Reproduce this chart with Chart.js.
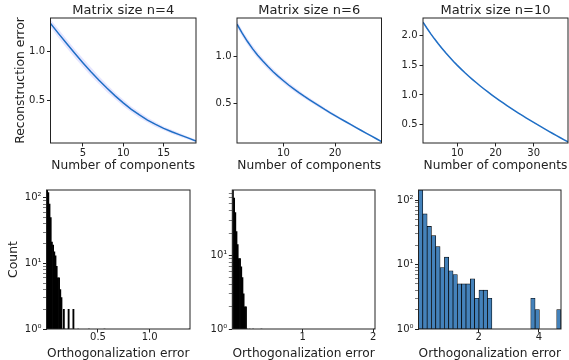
<!DOCTYPE html>
<html>
<head>
<meta charset="utf-8">
<script src="https://cdn.jsdelivr.net/npm/chart.js@4"></script>
<style>
  body { margin: 0; background: #fff; }
  #wrap { position: relative; width: 569px; height: 360px; }
  #wrap canvas { position: absolute; left: 0; top: 0; }
</style>
</head>
<body>
<div id="wrap">
  <canvas id="c1" width="569" height="360"></canvas>
  <canvas id="c2" width="569" height="360"></canvas>
  <canvas id="c3" width="569" height="360"></canvas>
  <canvas id="c4" width="569" height="360"></canvas>
  <canvas id="c5" width="569" height="360"></canvas>
  <canvas id="c6" width="569" height="360"></canvas>
</div>
<script>
// --- reconstruction error vs number of components ---
const comps4 = [1,2,3,4,5,6,7,8,9,10,11,12,13,14,15,16,17,18,19];
const err4 = [1.29,1.185,1.083,0.983,0.887,0.795,0.708,0.625,0.548,0.476,0.410,0.352,0.300,0.255,0.215,0.180,0.148,0.117,0.085];
const spread4 = [0.04,0.045,0.045,0.045,0.045,0.045,0.04,0.04,0.035,0.035,0.03,0.03,0.025,0.025,0.02,0.02,0.02,0.015,0.015];

const comps6 = [1,2,3,4,5,6,7,8,9,10,11,12,13,14,15,16,17,18,19,20,21,22,23,24,25,26,27,28,29];
const err6 = [1.345,1.249,1.163,1.085,1.016,0.953,0.895,0.841,0.791,0.745,0.700,0.659,0.619,0.581,0.545,0.510,0.476,0.441,0.408,0.376,
  0.344,0.313,0.282,0.251,0.220,0.190,0.160,0.130,0.100];
const spread6 = [0.035,0.035,0.035,0.035,0.033,0.032,0.03,0.03,0.028,0.027,0.026,0.025,0.024,0.022,0.021,0.02,0.019,0.018,0.017,0.016,
  0.015,0.014,0.013,0.012,0.011,0.01,0.01,0.01,0.01];

const comps10 = [1,2,3,4,5,6,7,8,9,10,11,12,13,14,15,16,17,18,19,20,21,22,23,24,25,26,27,28,29,30,31,32,33,34,35,36,37,38,39];
const err10 = [2.22,2.122,2.029,1.941,1.858,1.779,1.703,1.631,1.562,1.496,1.433,1.372,1.314,1.258,1.204,1.151,1.100,1.051,1.003,0.956,
  0.911,0.867,0.823,0.780,0.738,0.697,0.657,0.617,0.578,0.540,0.502,0.464,0.427,0.390,0.354,0.318,0.283,0.248,0.213];
const spread10 = [0.02,0.02,0.02,0.019,0.019,0.018,0.018,0.017,0.017,0.016,0.016,0.015,0.015,0.014,0.014,0.013,0.013,0.012,0.012,0.011,
  0.011,0.01,0.01,0.01,0.009,0.009,0.009,0.008,0.008,0.008,0.008,0.007,0.007,0.007,0.007,0.006,0.006,0.006,0.006];

// --- orthogonalization error histograms (counts per bin, bins span the range) ---
const range4 = [0.002, 1.39];
const hist4 = [131,120,80,50,21,19,15,13,9,6, 6,4,3,1,2,1,0,1,2,0, 1,0,2,0,0,0,1,0,0,0,
  0,0,0,0,0,1,0,0,0,0, 0,0,0,0,0,0,0,0,1,0, 0,0,0,0,0,0,0,0,0,0,
  0,0,0,0,0,0,0,0,0,0, 0,0,0,0,0,0,0,0,0,0, 0,0,0,0,0,0,0,0,0,0,
  0,0,0,0,0,0,0,0,0,0, 0,0,0,0,0,0,0,0,0,0, 0,0,0,0,0,0,0,0,0,1];
const range6 = [0.003, 2.024];
const hist6 = [77,60,38,21,14,9,9,7,5,3, 2,2,1,0,1,0,0,1,0,0, 0,0,0,0,1,0,0,0,0,0,
  0,0,0,0,0,0,0,0,0,0, 0,0,0,0,0,0,0,0,0,0, 0,0,0,0,0,0,0,0,0,0,
  0,0,0,0,0,0,0,0,0,0, 0,0,0,0,0,0,0,0,0,0, 0,0,0,0,0,0,0,0,0,0,
  0,0,0,0,0,0,0,0,0,0, 0,0,0,0,0,0,0,0,0,0, 0,0,0,0,0,0,0,0,0,1];
const range10 = [0.01, 4.73];
const hist10 = [143,61,39,28,19,9,13,8,7,5, 5,5,6,3,4,4,3,1,0,1, 0,0,1,0,1,0,3,2,0,1, 0,0,2];

// --- tick values and labels ---
const yTicks4 = [0.5, 1.0], yLabels4 = ['0.5', '1.0'];
const yTicks6 = [0.5, 1.0], yLabels6 = ['0.5', '1.0'];
const yTicks10 = [0.5, 1.0, 1.5, 2.0], yLabels10 = ['0.5', '1.0', '1.5', '2.0'];
const xTicks4 = [5, 10, 15], xTicks6 = [10, 20], xTicks10 = [10, 20, 30];
const hTicks4 = [0.5, 1.0], hLabels4 = ['0.5', '1.0'];
const hTicks6 = [1, 2], hLabels6 = ['1', '2'];
const hTicks10 = [2, 4], hLabels10 = ['2', '4'];
const logTicks = [1,2,3,4,5,6,7,8,9,10,20,30,40,50,60,70,80,90,100];
const logMajor = [1, 10, 100], logLabels = ['10\u2070', '10\u00b9', '10\u00b2'];

const W = 569, H = 360;
const LINE = '#1f6fc5', BAND = 'rgba(0,0,255,0.1)';
const INK = '#222';

Chart.defaults.font.family = "'DejaVu Sans', sans-serif";
Chart.defaults.color = INK;

// box round the plot area
const framePlugin = {
  id: 'frame',
  afterDraw(chart) {
    const a = chart.chartArea, ctx = chart.ctx;
    ctx.save();
    ctx.strokeStyle = INK;
    ctx.lineWidth = 1;
    ctx.strokeRect(a.left, a.top, a.right - a.left, a.bottom - a.top);
    ctx.restore();
  }
};

function axisGrid() {
  return { drawOnChartArea: false, drawTicks: true, tickLength: 3.5, tickColor: INK, tickWidth: 1 };
}

function yTitleOpts(text, pad) {
  if (!text) return { display: false };
  return { display: true, text: text, font: { size: 12.4, lineHeight: '12px' }, padding: { top: pad, bottom: 0 } };
}

// Function to draw one reconstruction error panel
function lineChart(id, area, comps, err, spread, yMin, yMax, yTicks, yLabels, xTicks, title, yTitle) {
  const mean = comps.map((c, i) => ({ x: c, y: err[i] }));
  const lower = comps.map((c, i) => ({ x: c, y: err[i] - spread[i] }));
  const upper = comps.map((c, i) => ({ x: c, y: err[i] + spread[i] }));
  const xH = 28.4;

  new Chart(document.getElementById(id), {
    type: 'line',
    data: {
      datasets: [
        { data: mean, borderColor: LINE, borderWidth: 1.5, pointRadius: 0, fill: false, tension: 0 },
        { data: lower, borderWidth: 0, borderColor: 'transparent', pointRadius: 0, fill: false },
        { data: upper, borderWidth: 0, borderColor: 'transparent', pointRadius: 0, fill: 1, backgroundColor: BAND }
      ]
    },
    options: {
      responsive: false, animation: false, devicePixelRatio: 1,
      layout: { padding: { left: 0, top: 0, right: W - area.r, bottom: H - area.b - xH } },
      plugins: {
        legend: { display: false }, tooltip: { enabled: false },
        title: {
          display: true, text: title, fullSize: false, color: INK,
          font: { size: 13, weight: 'normal', lineHeight: '14px' },
          padding: { top: 3.4, bottom: area.t - 17.4 }
        }
      },
      scales: {
        x: {
          type: 'linear', min: comps[0], max: comps[comps.length - 1],
          afterBuildTicks: s => { s.ticks = xTicks.map(v => ({ value: v })); },
          afterFit: s => { s.height = xH; },
          ticks: { font: { size: 10, lineHeight: 1 }, padding: 1.5, maxRotation: 0, autoSkip: false, callback: v => String(v) },
          grid: axisGrid(), border: { display: false },
          title: { display: true, text: 'Number of components', font: { size: 12.2, lineHeight: '12px' }, padding: 0 }
        },
        y: {
          type: 'linear', min: yMin, max: yMax,
          afterBuildTicks: s => { s.ticks = yTicks.map(v => ({ value: v })); },
          afterFit: s => { s.width = area.l; },
          ticks: { font: { size: 10, lineHeight: 1 }, padding: 2, autoSkip: false, callback: (v, i) => yLabels[i] },
          grid: axisGrid(), border: { display: false },
          title: yTitleOpts(yTitle, 14.8)
        }
      }
    },
    plugins: [framePlugin]
  });
}

// Function to draw one orthogonalization error histogram
function histChart(id, area, range, counts, yMax, xTicks, xLabels, fill, edgeWidth, yTitle) {
  const w = (range[1] - range[0]) / counts.length;
  const bars = counts.map((c, i) => ({ x: range[0] + (i + 0.5) * w, y: c > 0 ? c : null }));
  const xH = 31;

  new Chart(document.getElementById(id), {
    type: 'bar',
    data: {
      datasets: [{
        data: bars, backgroundColor: fill, borderColor: '#000', borderWidth: edgeWidth,
        borderSkipped: false, barPercentage: 1, categoryPercentage: 1
      }]
    },
    options: {
      responsive: false, animation: false, devicePixelRatio: 1,
      layout: { padding: { left: 0, top: area.t, right: W - area.r, bottom: H - area.b - xH } },
      plugins: { legend: { display: false }, tooltip: { enabled: false } },
      scales: {
        x: {
          type: 'linear', min: range[0], max: range[1], offset: false,
          afterBuildTicks: s => { s.ticks = xTicks.map(v => ({ value: v })); },
          afterFit: s => { s.height = xH; },
          ticks: { font: { size: 10, lineHeight: 1 }, padding: 0, maxRotation: 0, autoSkip: false, callback: (v, i) => xLabels[i] },
          grid: Object.assign(axisGrid(), { offset: false }), border: { display: false },
          title: { display: true, text: 'Orthogonalization error', font: { size: 12.2, lineHeight: '12px' }, padding: 0 }
        },
        y: {
          type: 'logarithmic', min: 1, max: yMax,
          afterBuildTicks: s => { s.ticks = logTicks.filter(v => v <= yMax).map(v => ({ value: v })); },
          afterFit: s => { s.width = area.l; },
          ticks: {
            font: { size: 10, lineHeight: 1 }, padding: 1.5, autoSkip: false,
            callback: v => { const k = logMajor.indexOf(v); return k >= 0 ? logLabels[k] : ''; }
          },
          grid: Object.assign(axisGrid(), {
            tickWidth: ctx => (logMajor.indexOf(ctx.tick.value) >= 0 ? 1 : 0.6)
          }),
          border: { display: false },
          title: yTitleOpts(yTitle, 8)
        }
      }
    },
    plugins: [framePlugin]
  });
}

lineChart('c1', { l: 50.5, t: 18, r: 196, b: 143 }, comps4, err4, spread4, 0.065, 1.345,
  yTicks4, yLabels4, xTicks4, 'Matrix size n=4', 'Reconstruction error');
lineChart('c2', { l: 237, t: 18, r: 381.5, b: 143 }, comps6, err6, spread6, 0.085, 1.41,
  yTicks6, yLabels6, xTicks6, 'Matrix size n=6', null);
lineChart('c3', { l: 423, t: 18, r: 568, b: 143 }, comps10, err10, spread10, 0.195, 2.29,
  yTicks10, yLabels10, xTicks10, 'Matrix size n=10', null);

histChart('c4', { l: 46.5, t: 190, r: 190, b: 329 }, range4, hist4, 131, hTicks4, hLabels4, '#000', 0, 'Count');
histChart('c5', { l: 232.3, t: 190, r: 375, b: 329 }, range6, hist6, 77, hTicks6, hLabels6, '#000', 0, null);
histChart('c6', { l: 418.5, t: 190, r: 561, b: 329 }, range10, hist10, 143, hTicks10, hLabels10, '#4482bb', 0.7, null);
</script>
</body>
</html>
